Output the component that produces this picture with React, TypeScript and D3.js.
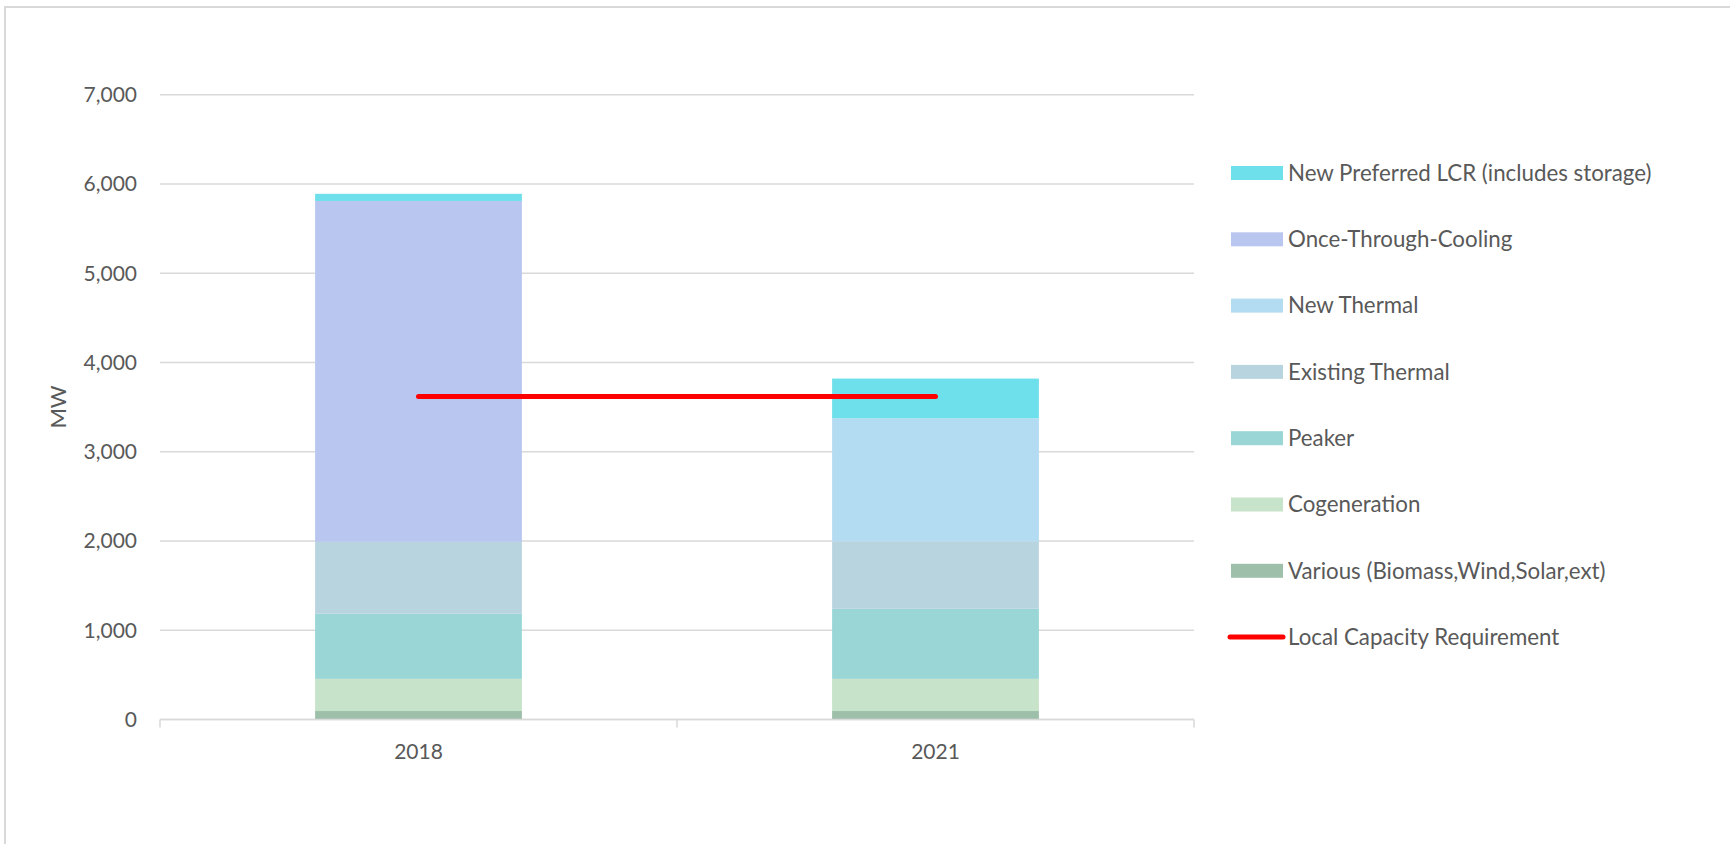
import React from "react";
import * as d3 from "d3";

const categories = ["2018", "2021"];
const various = [95, 95];
const cogeneration = [360, 360];
const peaker = [730, 785];
const existingThermal = [805, 755];
const newThermal = [0, 1380];
const onceThroughCooling = [3820, 0];
const newPreferred = [80, 445];
const lcr = [3620, 3620];
const yTicks = [0, 1000, 2000, 3000, 4000, 5000, 6000, 7000];

const seriesNames = [
  "Various (Biomass,Wind,Solar,ext)",
  "Cogeneration",
  "Peaker",
  "Existing Thermal",
  "New Thermal",
  "Once-Through-Cooling",
  "New Preferred LCR (includes storage)",
];
const seriesValues = [various, cogeneration, peaker, existingThermal, newThermal, onceThroughCooling, newPreferred];
const seriesColors = ["#9ec0aa", "#c7e3c9", "#9ad6d6", "#b8d4df", "#b3dbf1", "#b9c7f0", "#6ee0ec"];
const lcrName = "Local Capacity Requirement";

const W = 1730;
const H = 844;
const FONT = "Lato, 'Open Sans', sans-serif";
const TEXT = "#595959";
const GRID = "#d9d9d9";

export default function App() {
  const x = d3.scaleBand<string>().domain(categories).range([160, 1194]).paddingInner(0.6).paddingOuter(0.3);
  const y = d3.scaleLinear().domain([0, 7000]).range([719.5, 94.75]);

  const rows = categories.map((c, i) => {
    const r: Record<string, number | string> = { cat: c };
    seriesNames.forEach((n, k) => (r[n] = seriesValues[k][i]));
    return r;
  });
  const stacked = d3.stack<Record<string, number | string>>().keys(seriesNames)(rows as any);

  const lineGen = d3
    .line<number>()
    .x((_, i) => (x(categories[i]) as number) + x.bandwidth() / 2)
    .y((d) => y(d));

  const legendItems = [...seriesNames.map((n, k) => ({ name: n, color: seriesColors[k], line: false })).reverse(), { name: lcrName, color: "#ff0000", line: true }];

  return (
    <svg width={W} height={H} style={{ position: "absolute", left: 0, top: 0, background: "#fff" }} fontFamily={FONT}>
      <rect x={5} y={7} width={W} height={H} fill="#fff" stroke={GRID} strokeWidth={2} />
      {/* gridlines */}
      {yTicks.map((t) => (
        <line key={t} x1={160} x2={1194} y1={y(t)} y2={y(t)} stroke={GRID} strokeWidth={1.5} />
      ))}
      {/* y tick labels */}
      {yTicks.map((t) => (
        <text key={"l" + t} x={137} y={y(t)} dy="0.35em" textAnchor="end" fontSize={21} fill={TEXT}>
          {d3.format(",")(t)}
        </text>
      ))}
      <text transform={`translate(58,407) rotate(-90)`} textAnchor="middle" dy="0.35em" fontSize={22} fill={TEXT}>
        MW
      </text>
      {/* bars */}
      {stacked.map((s, k) => (
        <g key={s.key} fill={seriesColors[k]}>
          {s.map((d, i) => {
            const h = y(d[0]) - y(d[1]);
            if (h <= 0) return null;
            return <rect key={i} x={x(categories[i])} y={y(d[1])} width={x.bandwidth()} height={h} />;
          })}
        </g>
      ))}
      {/* x axis */}
      <line x1={160} x2={1194} y1={y(0)} y2={y(0)} stroke={GRID} strokeWidth={1.5} />
      {[160, 677, 1194].map((tx) => (
        <line key={tx} x1={tx} x2={tx} y1={y(0)} y2={y(0) + 8} stroke={GRID} strokeWidth={1.5} />
      ))}
      {categories.map((c) => (
        <text key={c} x={(x(c) as number) + x.bandwidth() / 2} y={751.5} dy="0.35em" textAnchor="middle" fontSize={21} fill={TEXT}>
          {c}
        </text>
      ))}
      {/* LCR line */}
      <path d={lineGen(lcr) as string} fill="none" stroke="#ff0000" strokeWidth={5} strokeLinecap="round" />
      {/* legend */}
      {legendItems.map((it, i) => {
        const cy = 173 + i * 66.3;
        return (
          <g key={it.name}>
            {it.line ? (
              <line x1={1230} x2={1283} y1={cy} y2={cy} stroke={it.color} strokeWidth={5} strokeLinecap="round" />
            ) : (
              <rect x={1231} y={cy - 7} width={52} height={14} fill={it.color} />
            )}
            <text x={1288} y={cy} dy="0.35em" fontSize={22.3} fill={TEXT}>
              {it.name}
            </text>
          </g>
        );
      })}
    </svg>
  );
}
